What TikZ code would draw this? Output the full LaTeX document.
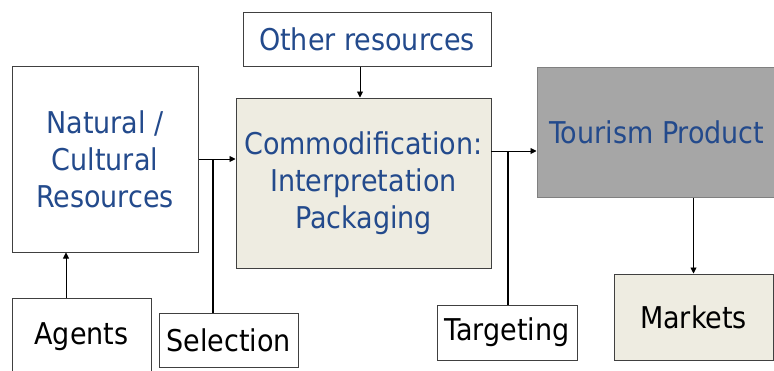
\documentclass[tikz,border=0pt]{standalone}
\usepackage{fontspec}
\setmainfont{DejaVu Sans Condensed}
\usetikzlibrary{arrows.meta}
\definecolor{txtblue}{HTML}{234A8C}
\definecolor{beige}{HTML}{EEECE1}
\definecolor{prodgray}{HTML}{A6A6A6}
\definecolor{edge}{HTML}{404040}
\tikzset{
  box/.style={draw=edge, line width=1pt, align=center, inner sep=0pt,
    font=\fontsize{30}{37}\selectfont},
  bluetext/.style={text=txtblue},
  arr/.style={-{Triangle[length=6pt,width=6pt]}, line width=0.9pt},
  feed/.style={line width=2pt}
}
\begin{document}
\begin{tikzpicture}[x=1pt,y=-1pt]
\useasboundingbox (0,0) rectangle (774,370);
\clip (0,0) rectangle (774,370);
\fill[white] (0,0) rectangle (774,370);
\node[box, bluetext, fill=white, minimum width=186pt, minimum height=186pt] (nat) at (105,159) {Natural /\\Cultural\\Resources};
\node[box, bluetext, fill=white, minimum width=248pt, minimum height=54pt] (oth) at (367,39) {Other resources};
\node[box, bluetext, fill=beige, minimum width=255pt, minimum height=170pt] (com) at (363.5,183) {Commodification:\\Interpretation\\Packaging};
\node[box, bluetext, draw=gray, fill=prodgray, minimum width=240pt, minimum height=130pt] (tour) at (657,132) {Tourism Product};
\node[box, fill=beige, minimum width=159pt, minimum height=86pt] (mkt) at (693.5,317) {Markets};
\node[box, fill=white, minimum width=139pt, minimum height=78pt] (agents) at (81.5,337) {Agents};
\node[box, fill=white, minimum width=139pt, minimum height=54pt] (sel) at (228.5,340) {Selection};
\node[box, fill=white, minimum width=140pt, minimum height=55pt] (tgt) at (507,332.5) {Targeting};
\coordinate (c1) at (491,151);
\draw[arr] ([xshift=-15.5pt]agents.north) -- ([xshift=-15.5pt]agents.north |- nat.south);
\draw[arr] (nat.east) -- (nat.east -| com.west);
\draw[feed] ([xshift=-15.5pt]sel.north) -- ([xshift=-15.5pt]sel.north |- nat.east);
\draw[arr] ([xshift=-7pt]oth.south) -- ([xshift=-7pt]oth.south |- com.north);
\draw[arr] (c1) -- (c1 -| tour.west);
\draw[feed] ([xshift=1pt]tgt.north) -- ([xshift=1pt]tgt.north |- c1);
\draw[arr] (mkt.north |- tour.south) -- (mkt.north);
\end{tikzpicture}
\end{document}
